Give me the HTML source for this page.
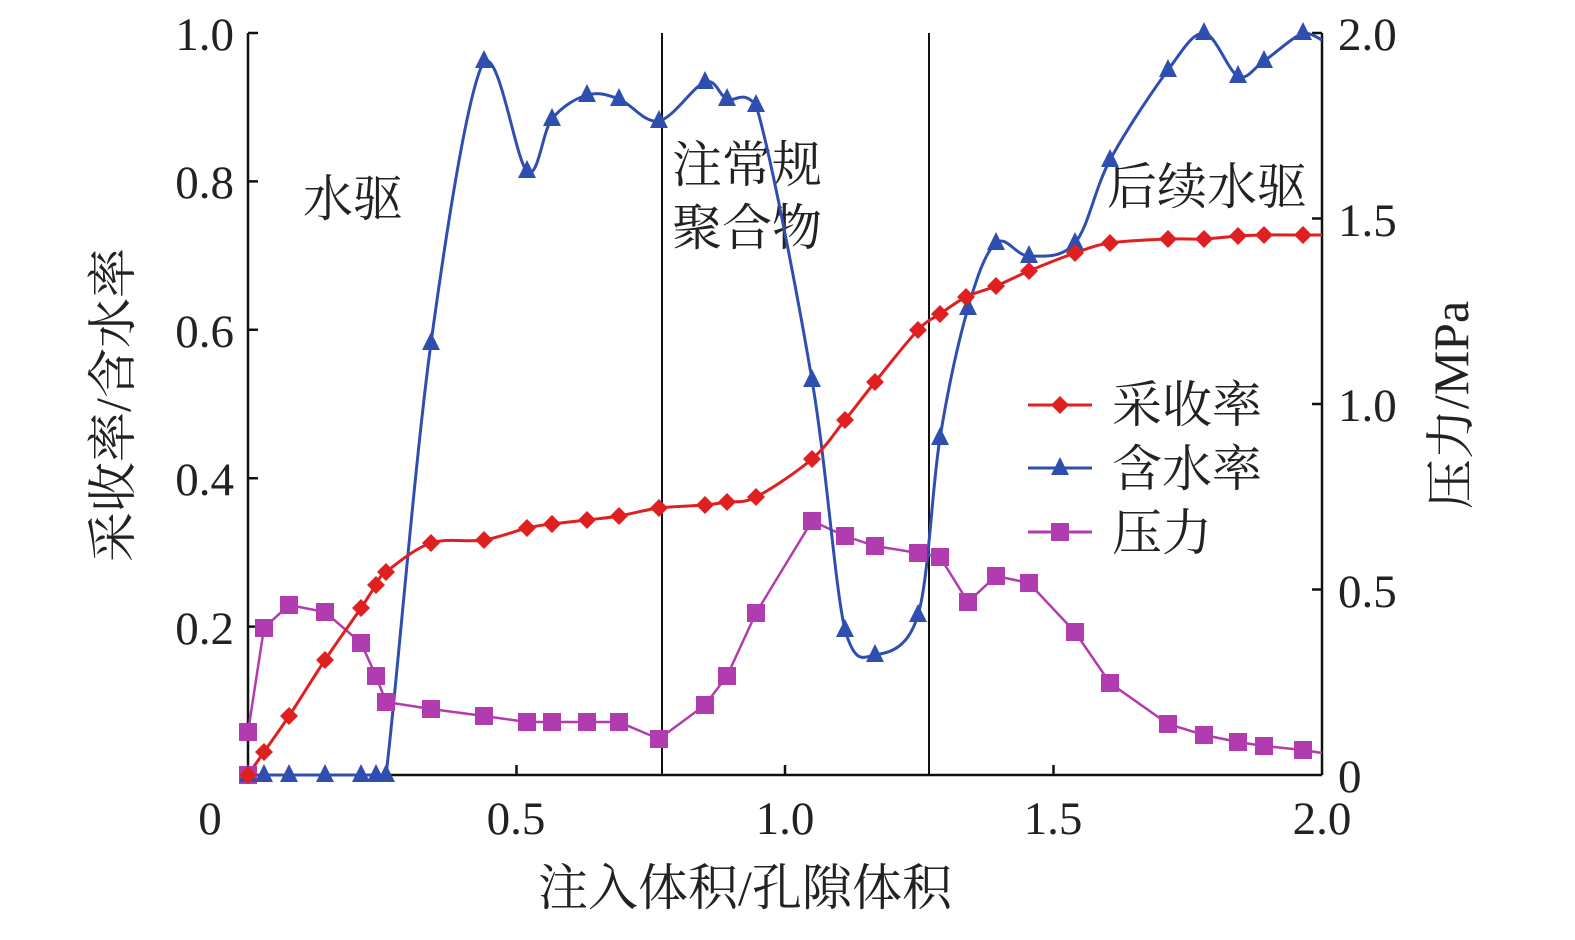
<!DOCTYPE html>
<html><head><meta charset="utf-8"><style>
body{margin:0;background:#fff}
svg text{font-family:"Liberation Serif","Noto Serif CJK SC","Noto Sans CJK SC",serif;fill:#222}
</style></head><body>
<svg id="s" width="1575" height="935" viewBox="0 0 1575 935" xmlns="http://www.w3.org/2000/svg">
<g stroke="#111" stroke-width="2.5" fill="none">
<line x1="248" y1="33" x2="248" y2="775"/>
<line x1="1322" y1="33" x2="1322" y2="775"/>
<line x1="248" y1="775" x2="1322" y2="775"/>
<line x1="662" y1="33" x2="662" y2="775" stroke-width="2"/>
<line x1="929" y1="33" x2="929" y2="775" stroke-width="2"/>
<path d="M248 33h10M248 181.4h10M248 329.8h10M248 478.2h10M248 626.6h10M1322 33h-10M1322 218.5h-10M1322 404h-10M1322 589.5h-10M516.5 775v-10M785 775v-10M1053.5 775v-10"/>
</g>
<g font-size="47" text-anchor="end">
<text x="234" y="50">1.0</text><text x="234" y="198">0.8</text><text x="234" y="347">0.6</text><text x="234" y="495">0.4</text><text x="234" y="644">0.2</text>
</g>
<g font-size="47" text-anchor="start">
<text x="1338" y="50">2.0</text><text x="1338" y="236">1.5</text><text x="1338" y="421">1.0</text><text x="1338" y="607">0.5</text><text x="1338" y="792">0</text>
</g>
<g font-size="47" text-anchor="middle">
<text x="210" y="834">0</text><text x="516" y="834">0.5</text><text x="785" y="834">1.0</text><text x="1053" y="834">1.5</text><text x="1322" y="834">2.0</text>
</g>
<g font-size="50" text-anchor="middle">
<text x="745" y="905">注入体积/孔隙体积</text>
<text transform="translate(130,405) rotate(-90)">采收率/含水率</text>
<text transform="translate(1468,405) rotate(-90)">压力/MPa</text>
</g>
<g font-size="50">
<text x="303" y="216">水驱</text>
<text x="672" y="182">注常规</text>
<text x="672" y="245">聚合物</text>
<text x="1107" y="204">后续水驱</text>
<text x="1112" y="422">采收率</text>
<text x="1112" y="486">含水率</text>
<text x="1112" y="550">压力</text>
</g>
<g id="g"></g>
</svg>
<script>
var red=[[248,775],[264,752],[289,716],[325,660],[361,608],[376,585],[386,572],[431,543],[484,540],[527,528],[552,524],[587,520],[619,516],[659,508],[705,505],[727,502],[756,497],[812,459],[845,420],[875,382],[918,330],[940,314],[966,297],[996,286],[1029,271],[1075,253],[1110,243],[1168,239],[1204,239],[1238,236],[1264,235],[1303,235],[1322,235]];
var blue=[[248,775],[264,775],[289,775],[325,775],[361,775],[376,775],[386,775],[431,343],[484,61],[527,171],[552,119],[587,95],[619,99],[659,121],[705,82],[727,99],[756,105],[812,380],[845,630],[875,655],[918,615],[940,438],[968,308],[996,243],[1029,256],[1075,243],[1110,160],[1168,70],[1204,33],[1238,76],[1264,61],[1303,33],[1322,40]];
var pur=[[248,775],[248,732],[264,628],[289,605],[325,612],[361,643],[376,676],[386,702],[431,709],[484,716],[527,722],[552,722],[587,722],[619,722],[659,739],[705,705],[727,676],[756,613],[812,521],[845,536],[875,546],[918,553],[940,557],[968,602],[996,576],[1029,583],[1075,632],[1110,683],[1168,724],[1204,735],[1238,742],[1264,746],[1303,750],[1322,753]];
function cl(v,b,c,k){var lo=Math.min(b,c)-k,hi=Math.max(b,c)+k;return Math.max(33,Math.min(775,Math.max(lo,Math.min(hi,v))));}
function cr(p,k){var d="M"+p[0][0]+" "+p[0][1];for(var i=0;i<p.length-1;i++){var a=p[Math.max(i-1,0)],b=p[i],c=p[i+1],e=p[Math.min(i+2,p.length-1)];
var y1=cl(b[1]+(c[1]-a[1])/6,b[1],c[1],k),y2=cl(c[1]-(e[1]-b[1])/6,b[1],c[1],k);
d+=" C"+(b[0]+(c[0]-a[0])/6)+" "+y1+" "+(c[0]-(e[0]-b[0])/6)+" "+y2+" "+c[0]+" "+c[1];}return d;}
var h='<polyline points="'+pur.slice(1).map(function(q){return q.join(",")}).join(" ")+'" fill="none" stroke="#b03cb0" stroke-width="2.5"/>';
h+='<path d="'+cr(blue,10)+'" fill="none" stroke="#2f4fb0" stroke-width="3"/>';
h+='<path d="'+cr(red,3)+'" fill="none" stroke="#e02020" stroke-width="3"/>';
function sq(x,y){return '<rect x="'+(x-9)+'" y="'+(y-9)+'" width="18" height="18" fill="#b03cb0"/>';}
function tr(x,y){return '<polygon points="'+x+','+(y-11)+' '+(x-9)+','+(y+7)+' '+(x+9)+','+(y+7)+'" fill="#2f4fb0"/>';}
function dm(x,y){return '<polygon points="'+x+','+(y-9)+' '+(x+9)+','+y+' '+x+','+(y+9)+' '+(x-9)+','+y+'" fill="#e02020"/>';}
pur.slice(0,-1).forEach(function(q){h+=sq(q[0],q[1]);});
blue.slice(0,-1).forEach(function(q){h+=tr(q[0],q[1]);});
red.slice(0,-1).forEach(function(q){h+=dm(q[0],q[1]);});
h+='<line x1="1028" y1="405" x2="1092" y2="405" stroke="#e02020" stroke-width="3"/>'+dm(1060,405);
h+='<line x1="1028" y1="468" x2="1092" y2="468" stroke="#2f4fb0" stroke-width="3"/>'+tr(1060,468);
h+='<line x1="1028" y1="532" x2="1092" y2="532" stroke="#b03cb0" stroke-width="3"/>'+sq(1060,532);
document.getElementById("g").innerHTML=h;
</script>
</body></html>
